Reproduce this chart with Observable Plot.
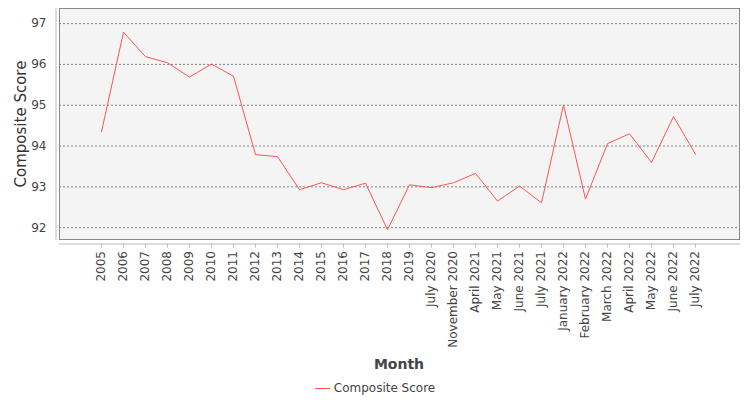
<!DOCTYPE html>
<html>
<head>
<meta charset="utf-8">
<script src="https://cdn.jsdelivr.net/npm/d3@7"></script>
<script src="https://cdn.jsdelivr.net/npm/@observablehq/plot@0.6"></script>
<style>
  html, body { margin: 0; padding: 0; background: #fff; }
  #wrap { position: relative; width: 750px; height: 400px; font-family: "DejaVu Sans", sans-serif; }
  #wrap svg { display: block; }
  #xtitle { position: absolute; left: 59px; width: 680px; top: 352px; line-height: 24px; text-align: center; font-weight: bold; font-size: 14px; color: #444; }
  #legend { position: absolute; left: 0; width: 750px; top: 378px; line-height: 20px; text-align: center; font-size: 12px; color: #444; }
  #legend .sw { display: inline-block; width: 15px; height: 1px; background: #ff5555; vertical-align: middle; margin-right: 4px; }
</style>
</head>
<body>
<div id="wrap">
  <div id="chart"></div>
  <div id="xtitle">Month</div>
  <div id="legend"><span class="sw"></span>Composite Score</div>
</div>
<script>
const months = ["2005","2006","2007","2008","2009","2010","2011","2012","2013","2014","2015","2016","2017","2018","2019",
  "July 2020","November 2020","April 2021","May 2021","June 2021","July 2021","January 2022","February 2022",
  "March 2022","April 2022","May 2022","June 2022","July 2022"];
const scores = [94.35, 96.79, 96.19, 96.04, 95.69, 96.01, 95.71, 93.79, 93.74, 92.93, 93.10, 92.93, 93.09, 91.95, 93.05,
  92.98, 93.10, 93.33, 92.65, 93.02, 92.61, 95.01, 92.70, 94.06, 94.30, 93.60, 94.72, 93.80];
const yTicks = [92, 93, 94, 95, 96, 97];

const data = months.map((m, i) => ({month: m, score: scores[i]}));

const chart = Plot.plot({
  width: 750,
  height: 350,
  marginLeft: 59,
  marginRight: 11,
  marginTop: 8,
  marginBottom: 111,
  style: {fontFamily: "DejaVu Sans", fontSize: "12px", color: "#444", background: "white"},
  x: {type: "point", domain: months, range: [101.3, 695.3], padding: 0},
  y: {domain: [91.71, 97.37]},
  marks: [
    Plot.frame({fill: "#f4f4f4"}),
    Plot.gridY(yTicks, {stroke: "#808080", strokeOpacity: 1, strokeDasharray: "2,2"}),
    Plot.frame({stroke: "#888"}),
    Plot.frame({anchor: "left", dx: -3.5, stroke: "#bbb"}),
    Plot.frame({anchor: "bottom", dy: 4.5, stroke: "#bbb"}),
    Plot.axisY(yTicks, {tickSize: 0, tickPadding: 13, label: null, fontSize: 12}),
    Plot.axisY({ticks: [], label: "Composite Score", labelAnchor: "center", labelArrow: "none", labelOffset: 44, fontSize: 15, fill: "#333"}),
    Plot.axisX({tickSize: 4, dy: 4.5, tickRotate: -90, tickPadding: 3, label: null, stroke: "#bbb", fontSize: 12}),
    Plot.line(data, {x: "month", y: "score", stroke: "#ff5555", strokeWidth: 1})
  ]
});
document.getElementById("chart").appendChild(chart);
</script>
</body>
</html>
